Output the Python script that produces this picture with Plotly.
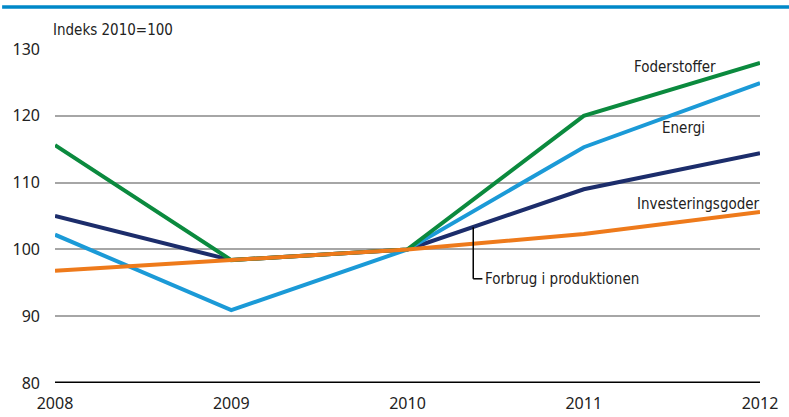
import plotly.graph_objects as go

years = [2008, 2009, 2010, 2011, 2012]
foderstoffer = [115.6, 98.4, 100.0, 120.0, 127.9]
energi = [102.2, 90.9, 100.0, 115.3, 124.9]
forbrug = [105.0, 98.4, 100.0, 109.0, 114.4]
investering = [96.8, 98.4, 100.0, 102.3, 105.6]

y_ticks = [80, 90, 100, 110, 120, 130]
x_ticks = [2008, 2009, 2010, 2011, 2012]

NARROW = "DejaVu Sans Condensed, Liberation Sans Narrow, sans-serif"
SANS = "Noto Sans, Open Sans, sans-serif"

fig = go.Figure()
series = [
    ("Forbrug i produktionen", forbrug, "#1c2d6b"),
    ("Energi", energi, "#1b9ad7"),
    ("Foderstoffer", foderstoffer, "#0b8a3e"),
    ("Investeringsgoder", investering, "#ee7a1b"),
]
for name, vals, col in series:
    fig.add_trace(go.Scatter(x=years, y=vals, mode="lines", name=name,
                             line=dict(color=col, width=4), showlegend=False,
                             hoverinfo="skip"))

fig.update_layout(
    template="none",
    width=789, height=417,
    margin=dict(l=55, r=29, t=49, b=34),
    plot_bgcolor="white", paper_bgcolor="white",
    xaxis=dict(range=[2008, 2012], tickvals=x_ticks, showgrid=False, zeroline=False,
               showline=False, ticks="", automargin=False, ticklabelstandoff=9,
               tickfont=dict(family=SANS, size=16, color="#222")),
    yaxis=dict(range=[80, 130], tickvals=y_ticks, showgrid=True, gridcolor="#a6a6a6",
               gridwidth=2, zeroline=False, showline=False, ticks="", automargin=False,
               ticklabelstandoff=14,
               tickfont=dict(family=SANS, size=16, color="#222")),
)

# baseline at 80
fig.add_shape(type="line", xref="x", yref="y", x0=2008, x1=2012, y0=80, y1=80,
              line=dict(color="black", width=3), layer="above")
# top blue rule
fig.add_shape(type="line", xref="paper", yref="paper", x0=-0.075, x1=1.05,
              y0=1.1257, y1=1.1257, line=dict(color="#0088c8", width=3.5))

# connector for Forbrug label
fig.add_shape(type="line", xref="x", yref="y", x0=2010.373, x1=2010.373, y0=103.3, y1=95.6,
              line=dict(color="black", width=1.5))
fig.add_shape(type="line", xref="x", yref="y", x0=2010.373, x1=2010.425, y0=95.6, y1=95.6,
              line=dict(color="black", width=1.5))

ann_font = dict(family=NARROW, size=15, color="#222")
fig.add_annotation(x=2011.52, y=127.3, text="Foderstoffer", showarrow=False, font=ann_font,
                   xanchor="center", yanchor="middle")
fig.add_annotation(x=2011.565, y=118.2, text="Energi", showarrow=False, font=ann_font,
                   xanchor="center", yanchor="middle")
fig.add_annotation(x=2012, y=106.8, text="Investeringsgoder", showarrow=False, font=ann_font,
                   xanchor="right", yanchor="middle", xshift=2)
fig.add_annotation(x=2010.43, y=95.6, text="Forbrug i produktionen", showarrow=False,
                   font=ann_font, xanchor="left", yanchor="middle")
fig.add_annotation(xref="paper", yref="paper", x=-0.005, y=1.0, yshift=8,
                   text="Indeks 2010=100", showarrow=False,
                   font=ann_font,
                   xanchor="left", yanchor="bottom")

fig.write_html("out.html", config={"displayModeBar": False},
               post_script="document.body.style.margin='0';")
